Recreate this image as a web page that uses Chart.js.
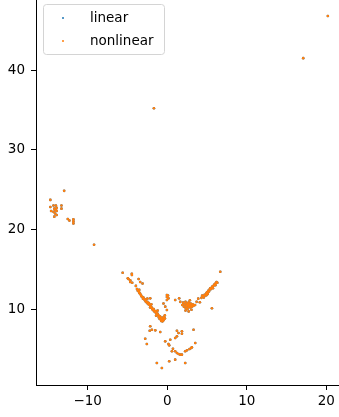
<!DOCTYPE html>
<html>
<head>
<meta charset="utf-8">
<script src="https://cdn.jsdelivr.net/npm/chart.js@4"></script>
<style>
  html, body { margin: 0; padding: 0; background: #fff; }
  #wrap { width: 339px; height: 417px; position: relative; }
</style>
</head>
<body>
<div id="wrap"><canvas id="grafico"></canvas></div>
<script>
// ticks
var xTicks = [-10, 0, 10, 20];
var yTicks = [10, 20, 30, 40];

// series names
var seriesNames = ['linear', 'nonlinear'];

// pontos (x, y)
var farPts = [[20.2, 46.8], [17.1, 41.5], [-1.67, 35.2], [-9.2, 18.07]];

var leftCluster = [
  [-12.96, 24.84], [-14.7, 23.7], [-14.7, 22.8], [-14.3, 23.0], [-14.0, 23.0],
  [-13.3, 23.0], [-13.3, 22.6], [-14.2, 22.6], [-14.0, 22.5], [-13.9, 22.3],
  [-14.6, 22.3], [-14.3, 22.2], [-14.1, 22.0], [-13.9, 21.8], [-14.2, 21.6],
  [-12.5, 21.3], [-12.3, 21.1], [-11.8, 21.25], [-11.8, 21.0], [-11.8, 20.75],
  [-13.9, 22.7], [-14.05, 22.4]
];

var leftArm = [
  [-5.6, 14.55], [-4.45, 14.43], [-4.95, 13.85], [-4.65, 13.6], [-4.4, 13.3],
  [-4.87, 13.76], [-4.44, 14.27], [-4.65, 13.4], [-3.94, 12.9], [-3.6, 13.76],
  [-3.4, 13.4], [-3.1, 13.2], [-3.52, 12.4], [-2.14, 11.34],
  [-3.8, 12.5], [-3.7, 12.3], [-3.55, 12.15], [-3.5, 12.0], [-3.4, 11.9],
  [-3.3, 11.75], [-3.25, 11.6], [-3.1, 11.5], [-3.0, 11.45], [-3.05, 11.3],
  [-2.9, 11.25], [-2.8, 11.1], [-2.75, 11.2], [-2.7, 10.95], [-2.6, 10.85],
  [-2.5, 10.9], [-2.45, 10.7], [-2.35, 10.6], [-2.3, 10.75], [-2.2, 10.5],
  [-2.1, 10.35], [-2.15, 10.2], [-2.0, 10.25], [-1.9, 10.1], [-1.85, 9.95],
  [-1.75, 9.85], [-1.7, 10.0], [-1.6, 9.7], [-1.5, 9.6], [-1.45, 9.75],
  [-1.35, 9.5], [-1.3, 9.35], [-1.2, 9.4], [-1.1, 9.2], [-1.0, 9.1],
  [-1.05, 8.95], [-0.9, 9.05], [-0.85, 8.85], [-0.8, 8.7], [-0.7, 8.9],
  [-0.65, 8.6], [-0.55, 8.75], [-0.5, 8.55], [-0.4, 8.7], [-0.3, 8.85],
  [-0.6, 8.45], [-2.5, 11.3], [-2.0, 10.6], [-1.2, 9.8], [-0.3, 9.2],
  [-0.75, 8.5], [-0.95, 8.75], [-0.45, 9.0], [-1.4, 9.15]
];

var centerPts = [
  [-0.04, 11.76], [-0.04, 11.5], [0.16, 11.34], [-0.04, 11.13], [-0.47, 10.7],
  [-0.25, 10.3], [-0.04, 9.87], [0.1, 11.7]
];

var rightArm = [
  [1.0, 11.13], [1.5, 11.34], [1.64, 10.9], [5.62, 10.09], [6.67, 14.68],
  [1.9, 10.5], [2.0, 10.8], [2.1, 10.3], [2.2, 10.6], [2.3, 10.9],
  [2.35, 10.1], [2.4, 10.4], [2.5, 10.7], [2.55, 10.0], [2.6, 10.5],
  [2.65, 10.25], [2.7, 10.85], [2.75, 10.6], [2.8, 10.4], [2.85, 11.1],
  [2.9, 10.2], [2.95, 10.7], [3.0, 10.45], [3.05, 9.9], [3.1, 10.3],
  [3.2, 10.6], [3.3, 10.4], [2.3, 9.8], [2.7, 9.7], [3.5, 10.5],
  [3.7, 10.9], [3.9, 11.3], [4.1, 10.85],
  [4.3, 11.4], [4.5, 11.6], [4.6, 11.45], [4.7, 11.8], [4.8, 11.7],
  [4.9, 11.95], [5.0, 12.1], [5.1, 11.9], [5.15, 12.3], [5.25, 12.2],
  [5.35, 12.45], [5.4, 12.6], [5.5, 12.5], [5.6, 12.7], [5.7, 12.85],
  [5.75, 12.6], [5.85, 12.95], [5.95, 13.1], [6.05, 13.0], [6.1, 13.25],
  [6.2, 13.4], [6.3, 13.3], [4.4, 11.7], [4.95, 11.75]
];

var lowerLoop = [
  [-2.14, 7.83], [-2.2, 7.28], [-1.93, 7.4], [-1.5, 7.32], [-0.88, 7.11],
  [-2.77, 6.27], [-2.56, 5.6], [1.22, 7.28], [1.42, 6.99], [1.85, 7.2],
  [1.85, 6.9], [3.31, 7.4], [1.22, 6.57], [1.0, 6.36], [0.38, 6.15],
  [-0.25, 5.94], [0.16, 5.6], [0.25, 5.44], [0.72, 5.02], [0.59, 4.7],
  [1.0, 4.7], [1.22, 4.48], [1.43, 4.35], [1.64, 4.27], [1.85, 4.27],
  [2.26, 4.7], [2.48, 4.82], [2.81, 4.98], [3.02, 5.1], [3.52, 5.73],
  [3.1, 5.2], [-1.3, 3.22], [0.25, 3.44], [-0.67, 2.6], [1.0, 3.64],
  [2.26, 3.22]
];

var nonlinearPts = farPts.concat(leftCluster, leftArm, centerPts, rightArm, lowerLoop);
// a serie linear fica escondida debaixo da nonlinear
var linearPts = nonlinearPts;

function toXY(arr) {
  return arr.map(function (p) { return { x: p[0], y: p[1] }; });
}

var cores = ['#1f77b4', '#ff7f0e'];

// legenda estilo matplotlib
var legendaPlugin = {
  id: 'legenda',
  afterDraw: function (chart) {
    var c = chart.ctx;
    c.save();
    c.beginPath();
    c.roundRect(43.5, 4.5, 121, 50, 3);
    c.fillStyle = 'rgba(255,255,255,0.8)';
    c.fill();
    c.strokeStyle = '#d4d4d4';
    c.lineWidth = 1;
    c.stroke();
    c.font = '13.5px "DejaVu Sans"';
    c.textBaseline = 'middle';
    for (var i = 0; i < seriesNames.length; i++) {
      var y = 18 + i * 23;
      c.beginPath();
      c.arc(63, y, 1, 0, Math.PI * 2);
      c.fillStyle = cores[i];
      c.fill();
      c.fillStyle = '#000';
      c.fillText(seriesNames[i], 90, y);
    }
    c.restore();
  }
};

function semPadding(s) {
  s.paddingTop = 0; s.paddingBottom = 0; s.paddingLeft = 0; s.paddingRight = 0;
}

var ctx = document.getElementById('grafico');
var chart = new Chart(ctx, {
  type: 'scatter',
  data: {
    datasets: [{
      label: seriesNames[0],
      data: toXY(linearPts),
      backgroundColor: cores[0],
      borderWidth: 0,
      pointRadius: 1.3,
      order: 2
    }, {
      label: seriesNames[1],
      data: toXY(nonlinearPts),
      backgroundColor: cores[1],
      borderWidth: 0,
      pointRadius: 1.3,
      order: 1
    }]
  },
  options: {
    responsive: true,
    maintainAspectRatio: false,
    animation: false,
    layout: { padding: 0, autoPadding: false },
    plugins: {
      legend: { display: false },
      tooltip: { enabled: false }
    },
    scales: {
      x: {
        type: 'linear',
        min: -16.5,
        max: 21.6,
        afterBuildTicks: function (s) { s.ticks = xTicks.map(function (v) { return { value: v }; }); },
        afterFit: function (s) { s.height = 32; semPadding(s); },
        grid: { drawOnChartArea: false, drawTicks: true, tickLength: 5, color: '#000' },
        border: { display: true, color: '#000', width: 1 },
        ticks: {
          padding: 3,
          color: '#000',
          font: { family: 'DejaVu Sans', size: 13.5 },
          maxRotation: 0,
          callback: function (v) { return v < 0 ? '\u2212' + Math.abs(v) : '' + v; }
        }
      },
      y: {
        type: 'linear',
        min: 0.46,
        max: 48.8,
        afterBuildTicks: function (s) { s.ticks = yTicks.map(function (v) { return { value: v }; }); },
        afterFit: function (s) { s.width = 36; semPadding(s); },
        grid: { drawOnChartArea: false, drawTicks: true, tickLength: 5, color: '#000' },
        border: { display: true, color: '#000', width: 1 },
        ticks: {
          padding: 6,
          color: '#000',
          font: { family: 'DejaVu Sans', size: 13.5 }
        }
      }
    }
  },
  plugins: [legendaPlugin]
});
</script>
</body>
</html>
